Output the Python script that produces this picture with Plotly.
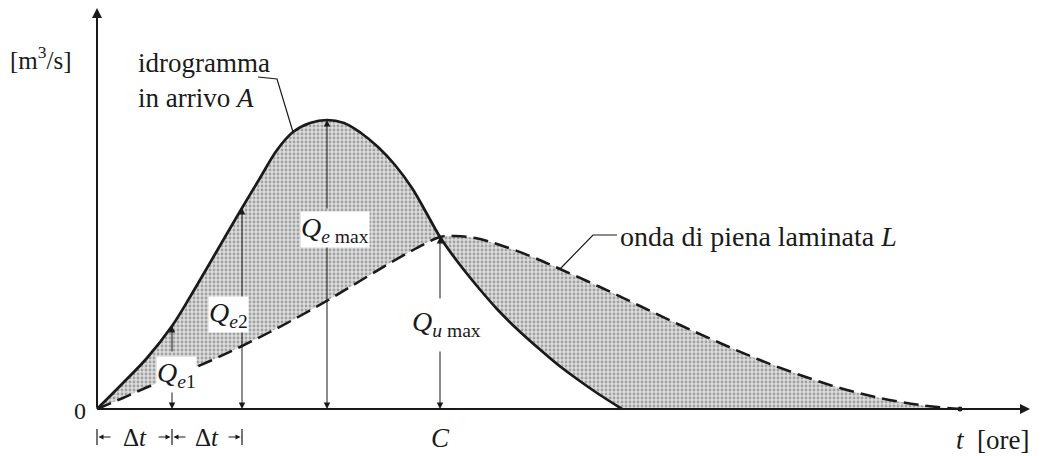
import plotly.graph_objects as go

# Idrogramma in arrivo A (t in unità arbitrarie, Q in unità arbitrarie)
A_t = [0, 2.5, 5.0, 7.5, 9.3, 11.0, 12.8, 14.5, 16.3, 18.0, 19.6, 21.3, 23.0, 24.7, 26.4,
       28.1, 29.8, 31.5, 33.0, 34.3, 36.0, 38.0, 40.0, 42.0, 44.0, 46.0, 48.0, 50.0, 52.5]
A_q = [0, 2.5, 5.1, 8.3, 11.2, 14.1, 17.2, 20.1, 23.1, 25.9, 27.7, 28.6, 28.9, 28.6, 27.6,
       26.2, 24.4, 22.1, 19.5, 17.2, 14.8, 12.3, 10.0, 8.0, 6.2, 4.5, 3.0, 1.6, 0]

# Onda di piena laminata L
L_t = [0, 2.6, 5.3, 8.3, 11.3, 14.3, 17.3, 20.3, 23.3, 26.3, 29.3, 31.8, 34.3, 35.8, 37.8,
       40.3, 43.3, 46.3, 50.3, 54.3, 58.3, 62.3, 66.3, 70.3, 74.3, 78.3, 82.3, 86.3]
L_q = [0, 1.1, 2.3, 3.5, 4.8, 6.2, 7.7, 9.3, 11.0, 12.8, 14.6, 16.0, 17.2, 17.3, 17.1,
       16.4, 15.3, 14.0, 12.2, 10.3, 8.4, 6.6, 4.9, 3.4, 2.1, 1.1, 0.4, 0]

I_E1, I_E2, I_EMAX, I_C = 3, 7, 12, 19   # indici su A: Δt, 2Δt, picco, punto C

SERIF = "Liberation Serif, Times New Roman, serif"
INK = "#1a1a1a"

fig = go.Figure()

fig.add_trace(go.Scatter(
    x=L_t, y=L_q, mode="lines", line=dict(color=INK, width=2.5, dash="15px,7px", shape="spline"),
    hoverinfo="skip", showlegend=False))
fig.add_trace(go.Scatter(
    x=A_t, y=A_q, mode="lines", line=dict(color=INK, width=2.7, shape="spline"),
    fill="tonexty",
    fillpattern=dict(shape=".", bgcolor="#dcdcdc", fgcolor="#666666", size=4, solidity=0.4),
    hoverinfo="skip", showlegend=False))

# punto finale dell'onda laminata
fig.add_trace(go.Scatter(x=[L_t[-1]], y=[0], mode="markers",
                         marker=dict(color=INK, size=5), hoverinfo="skip", showlegend=False))

# linee di richiamo
ea = (A_t[10], A_q[10])
fig.add_trace(go.Scatter(x=[ea[0] - 3.5, ea[0] - 1.6, ea[0]], y=[ea[1] + 5.5, ea[1] + 5.3, ea[1]],
                         mode="lines", line=dict(color=INK, width=1.2), hoverinfo="skip", showlegend=False))
el = (L_t[17], L_q[17])
fig.add_trace(go.Scatter(x=[el[0] + 5.7, el[0] + 3.3, el[0]], y=[el[1] + 3.4, el[1] + 3.4, el[1]],
                         mode="lines", line=dict(color=INK, width=1.2), hoverinfo="skip", showlegend=False))


def arrow(x, y, ax, ay, width=1.0, head=2, size=1.3):
    fig.add_annotation(x=x, y=y, ax=ax, ay=ay, xref="x", yref="y", axref="x", ayref="y",
                       text="", showarrow=True, arrowhead=head, arrowsize=size,
                       arrowwidth=width, arrowcolor=INK, standoff=0, startstandoff=0)


def label(x, y, text, size=27, xanchor="center", yanchor="middle", align="center", bg=None):
    fig.add_annotation(x=x, y=y, xref="x", yref="y", text=text, showarrow=False,
                       xanchor=xanchor, yanchor=yanchor, align=align, borderpad=0,
                       bgcolor=bg, font=dict(family=SERIF, size=size, color=INK))


# assi con freccia
arrow(93.3, 0, 0, 0, width=2, head=2, size=1.0)
arrow(0, 40.1, 0, 0, width=2, head=2, size=1.0)

# frecce verticali delle portate (interrotte dove sta l'etichetta)
gaps = {I_E1: (5.6, 1.9), I_E2: (10.9, 7.9), I_EMAX: (19.9, 16.4), I_C: (10.9, 5.9)}
for i, (top, bot) in gaps.items():
    arrow(A_t[i], A_q[i], A_t[i], top)
    arrow(A_t[i], 0, A_t[i], bot)

label(7.9, 3.5, "<i>Q</i><sub><i>e</i>1</sub>", size=28, bg="white")
label(13.1, 9.5, "<i>Q</i><sub><i>e</i>2</sub>", size=28, bg="white")
label(23.8, 18.0, "<i>Q</i><sub><i>e</i> max</sub>", size=28, bg="white")
label(34.9, 8.6, "<i>Q</i><sub><i>u</i> max</sub>", size=28, bg="white")

# Δt
dt_y = -2.8
for tk in [0, A_t[I_E1], A_t[I_E2]]:
    fig.add_shape(type="line", x0=tk, x1=tk, y0=dt_y - 0.8, y1=dt_y + 0.8,
                  line=dict(color=INK, width=1.2))
for a, b in [(0, A_t[I_E1]), (A_t[I_E1], A_t[I_E2])]:
    mid = (a + b) / 2
    arrow(a + 0.15, dt_y, a + 1.5, dt_y, size=1.0)
    arrow(b - 0.15, dt_y, b - 1.5, dt_y, size=1.0)
    label(mid, dt_y, "Δ<i>t</i>", size=25)

# testi
label(-5.6, 35.1, "[m<sup>3</sup>/s]", size=25)
label(4.0, 32.9, "idrogramma<br>in arrivo <i>A</i>", size=27, xanchor="left", align="left")
label(52.2, 17.3, "onda di piena laminata <i>L</i>", size=28, xanchor="left")
label(-1.7, -0.2, "0", size=24)
label(A_t[I_C], -2.9, "<i>C</i>", size=27)
label(85.8, -3.1, "<i>t</i>  [ore]", size=27, xanchor="left")

# la pagina ha un margine di 8 px: figura 1032x448, assi tarati sul riferimento
fig.update_layout(
    width=1032, height=448,
    margin=dict(l=0, r=0, t=0, b=0),
    paper_bgcolor="white", plot_bgcolor="white",
    xaxis=dict(range=[-8.9, 94.3], visible=False, fixedrange=True),
    yaxis=dict(range=[-4.7, 40.1], visible=False, fixedrange=True),
    showlegend=False,
)

fig.write_html("out.html")
